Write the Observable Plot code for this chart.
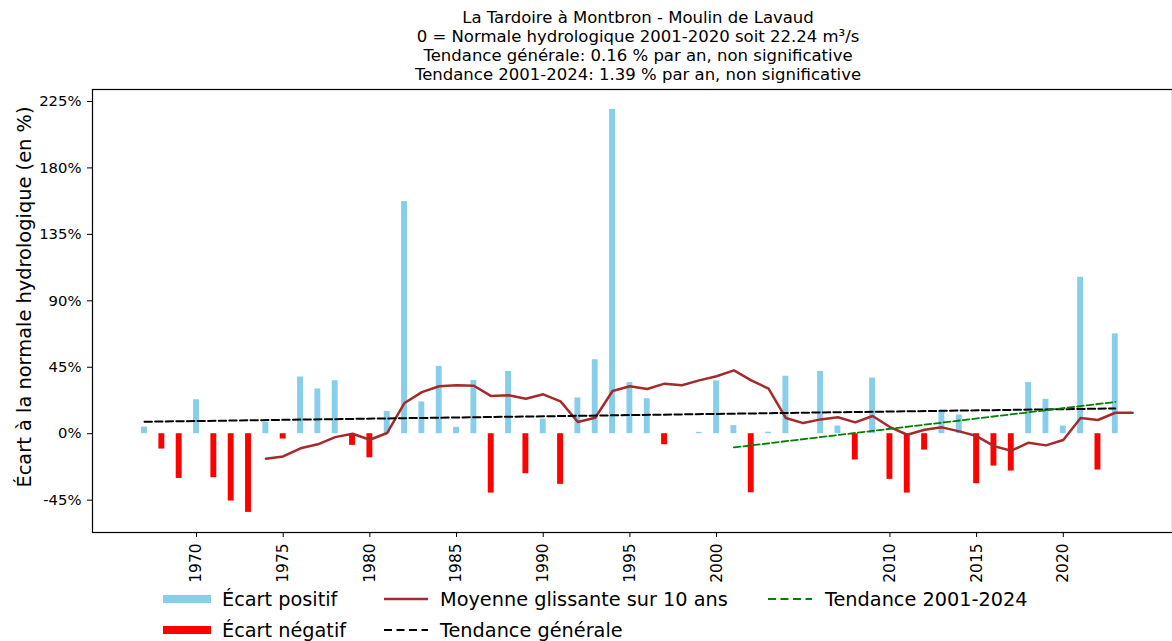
<!DOCTYPE html>
<html>
<head>
<meta charset="utf-8">
<script src="https://cdn.jsdelivr.net/npm/d3@7"></script>
<script src="https://cdn.jsdelivr.net/npm/@observablehq/plot@0.6"></script>
<style>
  html, body { margin: 0; padding: 0; background: #fff; }
  #wrap { position: relative; width: 1172px; height: 641px; font-family: "DejaVu Sans", sans-serif; color: #000; overflow: hidden; }
  #title { position: absolute; z-index: 2; left: 638px; top: 8px; transform: translateX(-50%); text-align: center; white-space: nowrap; font-size: 16.5px; line-height: 19px; }
  #chart { position: absolute; z-index: 1; left: 0; top: 80px; }
  #chart svg { background: transparent !important; }
  #chart svg text { font-family: "DejaVu Sans", sans-serif !important; font-size: 14.8px !important; }
  #chart svg g[aria-label="x-axis tick label"] text { font-size: 15.4px !important; }
  #ylabel { position: absolute; left: 25px; top: 297px; transform: translate(-50%, -50%) rotate(-90deg); white-space: nowrap; font-size: 19.4px; line-height: 1; }
  .leg { position: absolute; font-size: 19.3px; line-height: 1; white-space: nowrap; }
  .sw { position: absolute; }
</style>
</head>
<body>
<div id="wrap">
  <div id="title"></div>
  <div id="ylabel"></div>
  <div id="chart"></div>
  <div id="legend"></div>
</div>
<script>
// ---- Data ----
const titleLines = [
  "La Tardoire à Montbron - Moulin de Lavaud",
  "0 = Normale hydrologique 2001-2020 soit 22.24 m³/s",
  "Tendance générale: 0.16 % par an, non significative",
  "Tendance 2001-2024: 1.39 % par an, non significative"
];
const yLabel = "Écart à la normale hydrologique (en %)";

const years = [1967,1968,1969,1970,1971,1972,1973,1974,1975,1976,1977,1978,1979,1980,
  1981,1982,1983,1984,1985,1986,1987,1988,1989,1990,1991,1992,1993,1994,1995,1996,1997,
  1999,2000,2001,2002,2003,2004,2006,2007,2008,2009,2010,2011,2012,2013,2014,2015,2016,
  2017,2018,2019,2020,2021,2022,2023];
const ecarts = [4.5,-10.4,-30.3,23.0,-29.8,-45.6,-53.3,7.7,-3.6,38.4,30.3,35.9,-7.9,-16.3,
  15.1,157.2,21.5,45.6,4.3,36.1,-40.2,42.2,-27.1,9.9,-34.3,24.2,50.1,219.6,34.6,23.7,-7.5,
  0.9,35.8,5.5,-40.0,1.0,38.9,42.2,5.2,-17.8,37.7,-30.9,-40.2,-11.1,15.1,12.6,-33.9,-21.9,
  -25.3,34.6,23.3,5.2,105.9,-24.6,67.6];

const meanYears = [1974,1975,1976,1977,1978,1979,1980,1981,1982,1983,1984,1985,1986,1987,
  1988,1989,1990,1991,1992,1993,1994,1995,1996,1997,1998,1999,2000,2001,2002,2003,2004,
  2005,2006,2007,2008,2009,2010,2011,2012,2013,2014,2015,2016,2017,2018,2019,2020,2021,
  2022,2023,2024];
const meanValues = [-16.9,-15.4,-9.9,-7.2,-2.3,0,-4.1,0.5,20.8,28.2,32.1,32.8,32.5,25.5,
  26.0,23.7,26.7,21.9,7.9,10.8,28.9,32.1,30.3,33.9,32.8,36.1,38.9,42.9,36.1,30.5,10.6,
  7.2,9.7,11.1,7.7,12.0,4.5,-0.7,2.7,4.3,1.6,-1.6,-8.4,-11.5,-6.1,-7.9,-4.3,10.6,
  9.3,14.2,14.2];

const trendGenYears = [1967, 2023];
const trendGenValues = [8.1, 17.1];
const trend2001Years = [2001, 2023];
const trend2001Values = [-9.3, 21.5];

const yTicks = [-45, 0, 45, 90, 135, 180, 225];
const xTicks = [1970, 1975, 1980, 1985, 1990, 1995, 2000, 2010, 2015, 2020];

const legendItems = [
  {label: "Écart positif", kind: "bar", color: "#87CEEB"},
  {label: "Écart négatif", kind: "bar", color: "#FF0000"},
  {label: "Moyenne glissante sur 10 ans", kind: "line", color: "#A52A2A"},
  {label: "Tendance générale", kind: "dash", color: "#000000"},
  {label: "Tendance 2001-2024", kind: "dash", color: "#008000"}
];

// ---- Build tables ----
const bars = years.map((y, i) => ({year: y, value: ecarts[i]}));
const pos = bars.filter(d => d.value >= 0);
const neg = bars.filter(d => d.value < 0);
const mean = meanYears.map((y, i) => ({year: y, value: meanValues[i]}));
const tGen = trendGenYears.map((y, i) => ({year: y, value: trendGenValues[i]}));
const t2001 = trend2001Years.map((y, i) => ({year: y, value: trend2001Values[i]}));
const half = 0.17;

document.getElementById("title").innerHTML = titleLines.join("<br>");
document.getElementById("ylabel").textContent = yLabel;

const chart = Plot.plot({
  width: 1172,
  height: 510,
  marginTop: 9,
  marginBottom: 58,
  marginLeft: 92,
  marginRight: 0,
  style: {fontFamily: "DejaVu Sans, sans-serif", fontSize: "14.8px", color: "#000", background: "transparent", overflow: "visible"},
  x: {domain: [1964.0, 2026.3]},
  y: {domain: [-66.9, 233.1]},
  marks: [
    Plot.rectY(pos, {x1: d => d.year - half, x2: d => d.year + half, y1: 0, y2: "value", fill: "#87CEEB"}),
    Plot.rectY(neg, {x1: d => d.year - half, x2: d => d.year + half, y1: 0, y2: "value", fill: "#FF0000"}),
    Plot.line(mean, {x: "year", y: "value", stroke: "#A52A2A", strokeWidth: 2.5}),
    Plot.line(tGen, {x: "year", y: "value", stroke: "#000", strokeWidth: 2, strokeDasharray: "7.4,3.2"}),
    Plot.line(t2001, {x: "year", y: "value", stroke: "#008000", strokeWidth: 1.8, strokeDasharray: "6.7,2.9"}),
    Plot.axisY({ticks: yTicks, tickFormat: d => d + "%", tickSize: 5, tickPadding: 6, label: null}),
    Plot.axisX({ticks: xTicks, tickFormat: d => String(d), tickSize: 5, tickPadding: 6, tickRotate: -90, label: null}),
    Plot.frame({stroke: "#000", strokeWidth: 1.2})
  ]
});
document.getElementById("chart").appendChild(chart);

// ---- Legend ----
const legend = document.getElementById("legend");
const cols = [{sx: 163, tx: 222}, {sx: 384, tx: 440}, {sx: 768, tx: 825}];
const slots = [[0,0],[0,1],[1,0],[1,1],[2,0]];
const rowsY = [599, 630];
legendItems.forEach((it, i) => {
  const [c, r] = slots[i];
  const cy = rowsY[r];
  const ns = "http://www.w3.org/2000/svg";
  const svg = document.createElementNS(ns, "svg");
  const w = it.kind === "bar" ? 48 : 44;
  svg.setAttribute("width", w); svg.setAttribute("height", 12);
  svg.setAttribute("class", "sw");
  svg.style.left = cols[c].sx + "px"; svg.style.top = (cy - 6) + "px";
  if (it.kind === "bar") {
    const rc = document.createElementNS(ns, "rect");
    rc.setAttribute("x", 0); rc.setAttribute("y", 2); rc.setAttribute("width", w); rc.setAttribute("height", 8);
    rc.setAttribute("fill", it.color); svg.appendChild(rc);
  } else {
    const ln = document.createElementNS(ns, "line");
    ln.setAttribute("x1", 0); ln.setAttribute("x2", w); ln.setAttribute("y1", 6); ln.setAttribute("y2", 6);
    ln.setAttribute("stroke", it.color); ln.setAttribute("stroke-width", it.kind === "line" ? 2.5 : 2.2);
    if (it.kind === "dash") ln.setAttribute("stroke-dasharray", "8,4.5");
    svg.appendChild(ln);
  }
  legend.appendChild(svg);
  const t = document.createElement("div");
  t.className = "leg";
  t.textContent = it.label;
  t.style.left = cols[c].tx + "px";
  t.style.top = (cy - 9) + "px";
  legend.appendChild(t);
});
</script>
</body>
</html>
